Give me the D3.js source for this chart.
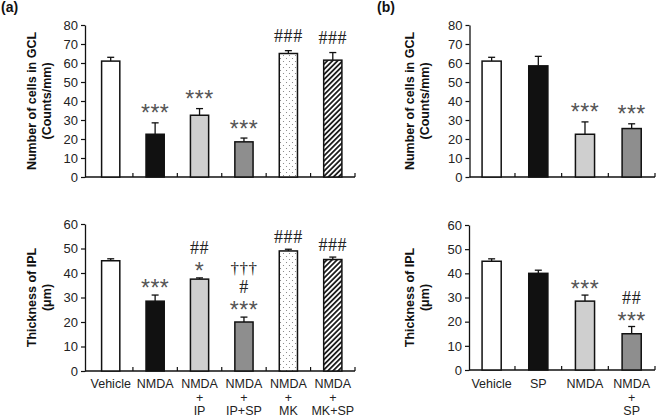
<!DOCTYPE html>
<html><head><meta charset="utf-8">
<script src="https://cdn.jsdelivr.net/npm/d3@7"></script>
<style>
body{margin:0;background:#fff;}
svg{display:block;font-family:"Liberation Sans",Arial,sans-serif;}
</style></head>
<body><svg id="c" width="657" height="418"></svg>
<script>
// ---- data ----
const labelsA = [["Vehicle"],["NMDA"],["NMDA","+","IP"],["NMDA","+","IP+SP"],["NMDA","+","MK"],["NMDA","+","MK+SP"]];
const labelsB = [["Vehicle"],["SP"],["NMDA"],["NMDA","+","SP"]];
const gclA = [61, 22.5, 32.5, 18.5, 65, 61.5];
const gclAErr = [2, 6, 3.5, 2, 1.5, 4];
const iplA = [45, 28.5, 37.5, 20, 49, 45.5];
const iplAErr = [0.8, 2.5, 0.5, 2, 0.7, 1];
const gclB = [61, 58.5, 22.5, 25.5];
const gclBErr = [2, 5, 6.5, 2.5];
const iplB = [45, 40, 28.5, 15];
const iplBErr = [1, 1.3, 2.5, 3];
const gclAMarks = [[],["***"],["***"],["***"],["###"],["###"]];
const iplAMarks = [[],["***"],["*","##"],["***","#","†††"],["###"],["###"]];
const gclBMarks = [[],[],["***"],["***"]];
const iplBMarks = [[],[],["***"],["***","##"]];
const fillsA = ["white","#111","#cfcfcf","#8e8e8e","url(#dots)","url(#hatch)"];
const fillsB = ["white","#111","#cfcfcf","#8e8e8e"];
const gclTicks = [0,10,20,30,40,50,60,70,80];
const iplTicks = [0,10,20,30,40,50,60];

const svg = d3.select("#c");
const defs = svg.append("defs");
const dots = defs.append("pattern").attr("id","dots").attr("patternUnits","userSpaceOnUse")
  .attr("width",6).attr("height",6);
dots.append("rect").attr("width",6).attr("height",6).attr("fill","white");
dots.append("circle").attr("cx",1.5).attr("cy",1.5).attr("r",0.55).attr("fill","#777");
dots.append("circle").attr("cx",4.5).attr("cy",4.5).attr("r",0.55).attr("fill","#777");
const hatch = defs.append("pattern").attr("id","hatch").attr("patternUnits","userSpaceOnUse")
  .attr("width",3.6).attr("height",3.6).attr("patternTransform","rotate(45)");
hatch.append("rect").attr("width",3.6).attr("height",3.6).attr("fill","white");
hatch.append("line").attr("x1",0.9).attr("y1",0).attr("x2",0.9).attr("y2",3.6)
  .attr("stroke","#111").attr("stroke-width",1.7);

function panel(o){
  const g = svg.append("g");
  const cats = o.labels.map((d,i)=>i);
  const x = d3.scaleBand().domain(cats).range(o.xr).padding(0);
  const y = d3.scaleLinear().domain([0,o.max]).range(o.yr);
  // y axis
  const ax = g.append("g").attr("transform",`translate(${o.yaxX},0)`)
    .call(d3.axisLeft(y).tickValues(o.ticks).tickSize(4).tickSizeOuter(0).tickPadding(3));
  ax.select(".domain").attr("stroke","#111").attr("stroke-width",1.3);
  ax.selectAll(".tick line").attr("stroke","#111").attr("stroke-width",1.2);
  ax.selectAll(".tick text").attr("font-size",13).attr("fill","#222")
    .attr("font-family","Liberation Sans, Arial, sans-serif");
  // x axis line
  g.append("line").attr("x1",o.yaxX).attr("x2",o.xr[1]).attr("y1",y(0)).attr("y2",y(0))
    .attr("stroke","#111").attr("stroke-width",1.3);
  cats.forEach(i=>{
    const bx = x(i)+x.bandwidth();
    g.append("line").attr("x1",bx).attr("x2",bx).attr("y1",y(0)).attr("y2",y(0)-4)
      .attr("stroke","#111").attr("stroke-width",1.2);
  });
  const bw = x.bandwidth()*0.41;
  cats.forEach(i=>{
    const cx = x(i)+x.bandwidth()/2;
    const v = o.vals[i], e = o.errs[i];
    // error bar
    g.append("line").attr("x1",cx).attr("x2",cx).attr("y1",y(v)).attr("y2",y(v+e))
      .attr("stroke","#111").attr("stroke-width",1.3);
    g.append("line").attr("x1",cx-3.5).attr("x2",cx+3.5).attr("y1",y(v+e)).attr("y2",y(v+e))
      .attr("stroke","#111").attr("stroke-width",1.3);
    g.append("rect").attr("x",cx-bw/2).attr("y",y(v)).attr("width",bw).attr("height",y(0)-y(v))
      .attr("fill",o.fills[i]).attr("stroke","#111").attr("stroke-width",1.5);
    // significance marks
    let c = y(v+e) - o.gap;
    o.marks[i].forEach((m,k)=>{
      const t = g.append("text").attr("x",cx).attr("text-anchor","middle").text(m);
      if(m[0]==="*"){
        t.attr("font-size",23).attr("y",c+13).attr("fill","#555").attr("letter-spacing",0.5)
         .attr("font-family","Liberation Sans, Arial, sans-serif");
      } else if(m[0]==="#"){
        t.attr("font-size",18).attr("y",c+6).attr("fill","#222").attr("letter-spacing",0.6)
         .attr("font-family","Liberation Serif, Times New Roman, serif");
      } else {
        t.attr("font-size",17).attr("y",c+5).attr("fill","#222").attr("letter-spacing",0.5)
         .attr("font-family","Liberation Serif, Times New Roman, serif");
      }
      c -= 18;
    });
  });
  // x labels
  if(o.showX){
    cats.forEach(i=>{
      const cx = x(i)+x.bandwidth()/2;
      o.labels[i].forEach((l,k)=>{
        g.append("text").attr("x",cx).attr("y",388+k*13.5).attr("text-anchor","middle")
          .attr("font-size",12.5).attr("fill","#222").text(l);
      });
    });
  }
  // y title
  const cy = (o.yr[0]+o.yr[1])/2;
  o.title.forEach((t,k)=>{
    g.append("text").attr("transform",`translate(${o.titleX+k*15},${cy}) rotate(-90)`)
      .attr("text-anchor","middle").attr("font-weight","bold").attr("font-size",12.5)
      .attr("fill","#111").text(t);
  });
}

panel({labels:labelsA, vals:gclA, errs:gclAErr, marks:gclAMarks, fills:fillsA, xr:[88.5,355], yaxX:85,
  yr:[177,25], max:80, ticks:gclTicks, gap:14.5, showX:false, title:["Number of cells in GCL","(Counts/mm)"], titleX:36});
panel({labels:labelsA, vals:iplA, errs:iplAErr, marks:iplAMarks, fills:fillsA, xr:[88.5,355], yaxX:85,
  yr:[371,224], max:60, ticks:iplTicks, gap:12, showX:true, title:["Thickness of IPL","(μm)"], titleX:36});
panel({labels:labelsB, vals:gclB, errs:gclBErr, marks:gclBMarks, fills:fillsB, xr:[468.3,655], yaxX:469.5,
  yr:[177,25], max:80, ticks:gclTicks, gap:14.5, showX:false, title:["Number of cells in GCL","(Counts/mm)"], titleX:414});
panel({labels:labelsB, vals:iplB, errs:iplBErr, marks:iplBMarks, fills:fillsB, xr:[468.3,655], yaxX:469,
  yr:[370,225], max:60, ticks:iplTicks, gap:11, showX:true, title:["Thickness of IPL","(μm)"], titleX:414});

svg.append("text").attr("x",1).attr("y",12).attr("font-weight","bold").attr("font-size",14).attr("fill","#111").text("(a)");
svg.append("text").attr("x",377).attr("y",12).attr("font-weight","bold").attr("font-size",14).attr("fill","#111").text("(b)");
</script></body></html>
